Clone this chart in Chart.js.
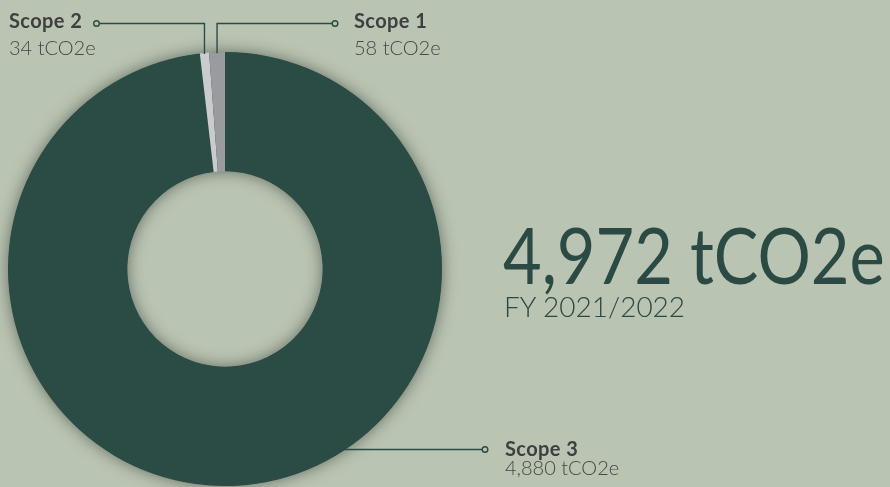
<!DOCTYPE html>
<html>
<head>
<meta charset="utf-8">
<script src="https://cdn.jsdelivr.net/npm/chart.js@4.4.1/dist/chart.umd.min.js"></script>
<style>
  html, body { margin:0; padding:0; background:#bac4b3; }
  #wrap { position:relative; width:890px; height:487px; overflow:hidden; background:#bac4b3; font-family:"Lato", sans-serif; }
  #chart { position:absolute; left:0; top:0; }
  .lbl { position:absolute; white-space:nowrap; line-height:1; }
  .name { font-weight:700; font-size:20px; letter-spacing:0.4px; color:#3e403f; }
  .val { font-weight:300; font-size:20px; color:#464847; }
  #total { position:absolute; left:503px; top:215px; font-size:78px; line-height:1; color:#2c4a44; font-weight:400; white-space:nowrap; transform:scaleX(0.855); transform-origin:0 0; }
  #fy { position:absolute; left:504px; top:292px; font-size:28px; line-height:1; color:#2c4a44; font-weight:300; white-space:nowrap; }
</style>
</head>
<body>
<div id="wrap">
  <canvas id="chart" width="890" height="487"></canvas>
  <div class="lbl name" style="left:9px;top:10px;">Scope 2</div>
  <div class="lbl val" style="left:9px;top:37px;">34 tCO2e</div>
  <div class="lbl name" style="left:354px;top:10px;">Scope 1</div>
  <div class="lbl val" style="left:354px;top:37px;">58 tCO2e</div>
  <div class="lbl name" style="left:505px;top:437.5px;">Scope 3</div>
  <div class="lbl val" style="left:505px;top:457px;">4,880 tCO2e</div>
  <div id="total">4,972 tCO2e</div>
  <div id="fy">FY 2021/2022</div>
</div>
<script>
const categories = ["Scope 3", "Scope 2", "Scope 1"];
const emissions = [4880, 34, 58];
const sliceColors = ["#2b4b45", "#c9cbcd", "#9a9b9e"];

const BG = "#bac4b3";
const LINE = "#2b4b45";

const shadowRing = {
  id: "shadowRing",
  beforeDatasetsDraw(chart) {
    const arc = chart.getDatasetMeta(0).data[0];
    if (!arc) return;
    const { x, y, outerRadius, innerRadius } = arc.getProps(["x","y","outerRadius","innerRadius"], true);
    const ctx = chart.ctx;
    ctx.save();
    ctx.shadowColor = "rgba(20,30,20,0.55)";
    ctx.shadowBlur = 16;
    ctx.fillStyle = "#2b4b45";
    ctx.beginPath();
    ctx.arc(x, y, outerRadius - 0.5, 0, Math.PI * 2);
    ctx.arc(x, y, innerRadius + 0.5, 0, Math.PI * 2, true);
    ctx.closePath();
    ctx.fill();
    ctx.restore();
  }
};

function marker(ctx, x, y) {
  ctx.beginPath();
  ctx.arc(x, y, 2.8, 0, Math.PI * 2);
  ctx.fillStyle = BG;
  ctx.fill();
  ctx.stroke();
}

const leaders = {
  id: "leaders",
  afterDatasetsDraw(chart) {
    const meta = chart.getDatasetMeta(0);
    const ctx = chart.ctx;
    ctx.save();
    ctx.strokeStyle = LINE;
    ctx.lineWidth = 1.4;
    const topY = 23.5;
    const pts = [1, 2].map(i => {
      const a = meta.data[i];
      const p = a.getProps(["x","y","startAngle","endAngle","outerRadius"], true);
      const mid = (p.startAngle + p.endAngle) / 2;
      return { x: p.x + Math.cos(mid) * p.outerRadius, y: p.y + Math.sin(mid) * p.outerRadius };
    });
    // Scope 2
    ctx.beginPath();
    ctx.moveTo(pts[0].x, pts[0].y + 1);
    ctx.lineTo(pts[0].x, topY);
    ctx.lineTo(99.5, topY);
    ctx.stroke();
    marker(ctx, 96.5, topY);
    // Scope 1
    ctx.beginPath();
    ctx.moveTo(pts[1].x, pts[1].y + 1);
    ctx.lineTo(pts[1].x, topY);
    ctx.lineTo(332, topY);
    ctx.stroke();
    marker(ctx, 335, topY);
    // Scope 3
    const a3 = meta.data[0].getProps(["x","y","outerRadius"], true);
    const ly = 449.5;
    const dx = Math.sqrt(Math.max(a3.outerRadius * a3.outerRadius - (ly - a3.y) * (ly - a3.y), 0));
    ctx.beginPath();
    ctx.moveTo(a3.x + dx - 6, ly);
    ctx.lineTo(482, ly);
    ctx.stroke();
    marker(ctx, 485, ly);
    ctx.restore();
  }
};

new Chart(document.getElementById("chart"), {
  type: "doughnut",
  data: {
    labels: categories,
    datasets: [{
      data: emissions,
      backgroundColor: sliceColors,
      borderWidth: 0,
      hoverOffset: 0
    }]
  },
  options: {
    responsive: false,
    animation: false,
    cutout: "45%",
    rotation: 0,
    layout: { padding: { left: 8, right: 448, top: 52, bottom: 1 } },
    plugins: { legend: { display: false }, tooltip: { enabled: false } }
  },
  plugins: [shadowRing, leaders]
});
</script>
</body>
</html>
